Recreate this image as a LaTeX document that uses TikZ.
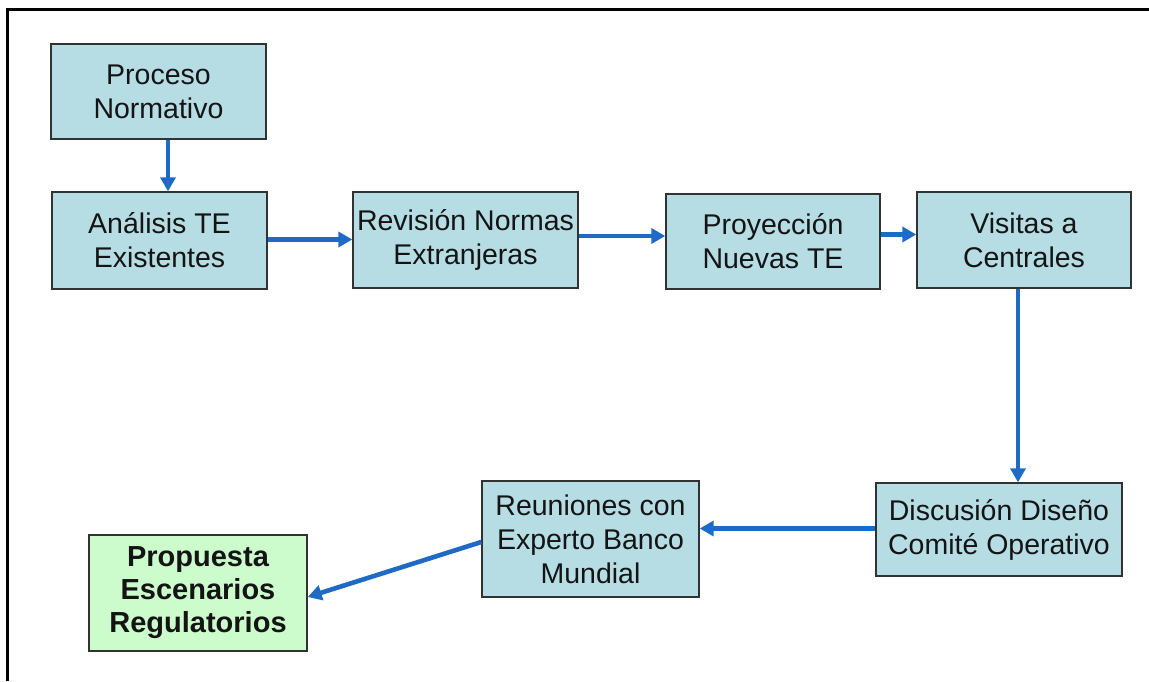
\documentclass[tikz,border=0pt]{standalone}
\usepackage{fontspec}
\setmainfont{Liberation Sans}
\usetikzlibrary{arrows.meta}
\definecolor{boxblue}{RGB}{183,221,228}
\definecolor{boxgreen}{RGB}{204,252,204}
\definecolor{arrowblue}{RGB}{30,106,196}
\definecolor{edgegray}{RGB}{50,50,50}
\definecolor{txt}{RGB}{20,20,20}
\tikzset{
  stepbox/.style={draw=edgegray, line width=1.4pt, fill=boxblue, rectangle, align=center,
    inner sep=0pt, text=txt, font=\fontsize{28.5}{34}\selectfont},
  finalbox/.style={stepbox, fill=boxgreen, font=\fontsize{29}{33}\selectfont\bfseries},
  arr/.style={draw=arrowblue, line width=4.6pt, -{Triangle[length=14pt,width=15pt]}},
}
\begin{document}
\begin{tikzpicture}[x=1pt,y=-1pt]
\useasboundingbox (0,0) rectangle (1149,681);
\fill[white] (0,0) rectangle (1149,681);
\draw[line width=3pt] (7,681) -- (7,9) -- (1149,9);

\node[stepbox, minimum width=215pt, minimum height=95pt] (proc) at (158.5,91.5) {Proceso\\Normativo};
\node[stepbox, minimum width=215pt, minimum height=97pt] (anal) at (159.5,240.5) {Análisis TE\\Existentes};
\node[stepbox, minimum width=225pt, minimum height=96pt] (rev) at (465.5,240) {Revisión Normas\\Extranjeras};
\node[stepbox, minimum width=214pt, minimum height=95pt] (proy) at (773,241.5) {Proyección\\Nuevas TE};
\node[stepbox, minimum width=214pt, minimum height=96pt] (vis) at (1024,240) {Visitas a\\Centrales};
\node[stepbox, minimum width=246pt, minimum height=93pt] (disc) at (999,529.5) {Discusión Diseño\\Comité Operativo};
\node[stepbox, minimum width=217pt, minimum height=116pt] (reun) at (590.5,539) {Reuniones con\\Experto Banco\\Mundial};
\node[finalbox, minimum width=218pt, minimum height=116pt] (prop) at (198,593) {Propuesta\\Escenarios\\Regulatorios};

\draw[arr] ([xshift=9.5pt]proc.south) -- ([xshift=9.5pt]proc.south |- anal.north);
\draw[arr] ([yshift=1pt]anal.east) -- ([yshift=1pt]anal.east -| rev.west);
\draw[arr] ([yshift=4pt]rev.east) -- ([yshift=4pt]rev.east -| proy.west);
\draw[arr] ([yshift=7pt]proy.east) -- ([yshift=7pt]proy.east -| vis.west);
\draw[arr] ([xshift=-6pt]vis.south) -- ([xshift=-6pt]vis.south |- disc.north);
\draw[arr] ([yshift=1pt]disc.west) -- ([yshift=1pt]disc.west -| reun.east);
\draw[arr] ([yshift=-3pt]reun.west) -- ([yshift=-4pt]prop.east);
\end{tikzpicture}
\end{document}
